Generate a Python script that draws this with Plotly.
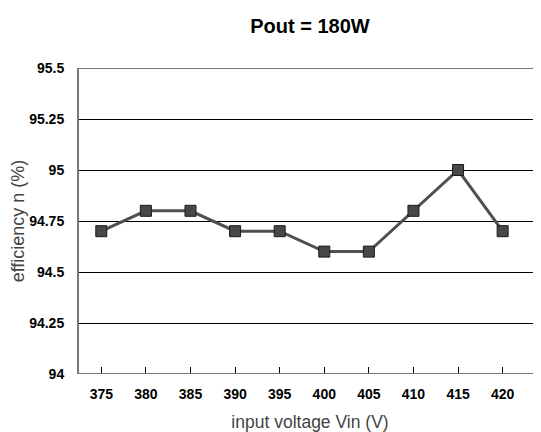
import plotly.graph_objects as go

vin = ["375", "380", "385", "390", "395", "400", "405", "410", "415", "420"]
efficiency = [94.7, 94.8, 94.8, 94.7, 94.7, 94.6, 94.6, 94.8, 95.0, 94.7]
y_ticks = [94, 94.25, 94.5, 94.75, 95, 95.25, 95.5]
y_tick_text = ["94", "94.25", "94.5", "94.75", "95", "95.25", "95.5"]

FONT = "Liberation Sans, Arial"
OFF = 8  # page body margin offset

fig = go.Figure()
fig.add_trace(go.Scatter(
    x=vin, y=efficiency, mode="lines+markers",
    line=dict(color="#505050", width=3),
    marker=dict(symbol="square", size=11, color="#484848",
                line=dict(color="#1a1a1a", width=1)),
    showlegend=False,
))

fig.update_layout(
    width=541, height=432,
    paper_bgcolor="white", plot_bgcolor="white",
    margin=dict(l=79 - OFF, r=OFF, t=68 - OFF, b=58 + OFF, autoexpand=False),
    title=dict(text="<b>Pout = 180W</b>", xref="paper", x=0.5, xanchor="center",
               yref="container", y=1 - (26 - OFF) / 432, yanchor="middle", automargin=False,
               font=dict(family=FONT, size=20, color="black")),
    font=dict(family=FONT, color="black"),
)
fig.update_xaxes(
    type="category", range=[-0.5, 9.86], automargin=False,
    showgrid=False, showline=False, zeroline=False,
    ticks="inside", ticklen=7, tickcolor="black", tickwidth=1,
    tickfont=dict(size=14, color="black", family=FONT),
    ticktext=["<b>%s</b>" % v for v in vin], tickvals=vin,
    ticklabelstandoff=10,
    title=dict(text="input voltage Vin (V)", font=dict(size=17.5, color="#444444"), standoff=14),
)
fig.update_yaxes(
    range=[94, 95.5], tickvals=y_ticks, automargin=False,
    ticktext=["<b>%s</b>" % t for t in y_tick_text],
    showgrid=True, gridcolor="black", gridwidth=1,
    showline=True, linecolor="#777777", linewidth=2, mirror=False,
    zeroline=False, ticks="", ticklabelstandoff=10,
    tickfont=dict(size=14, color="black", family=FONT),
    title=dict(text="efficiency n (%)", font=dict(size=18, color="#444444"), standoff=10),
)
fig.add_shape(type="line", xref="paper", yref="y", x0=0, x1=1, y0=95.5, y1=95.5,
              line=dict(color="#777777", width=2))
fig.add_shape(type="line", xref="paper", yref="y", x0=0, x1=1, y0=94, y1=94,
              line=dict(color="#777777", width=2))

fig.write_html("out.html")
